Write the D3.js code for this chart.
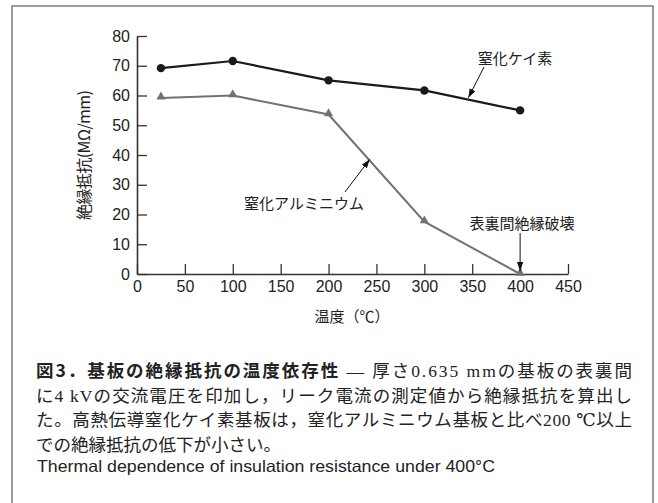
<!DOCTYPE html>
<html>
<head>
<meta charset="utf-8">
<script src="https://cdn.jsdelivr.net/npm/d3@7"></script>
<style>
  body { margin: 0; background: #fff; }
  svg { display: block; }
</style>
</head>
<body>
<svg id="chart" width="658" height="503"></svg>
<script>
// data
const temps = [25, 100, 200, 300, 400];
const siliconNitride = [69.2, 71.6, 65.1, 61.7, 55.0];
const aluminumNitride = [59.2, 60.0, 53.6, 17.6, 0];
const xTicks = [0, 50, 100, 150, 200, 250, 300, 350, 400, 450];
const yTicks = [0, 10, 20, 30, 40, 50, 60, 70, 80];

const captionLines = [
  ["図3．基板の絶縁抵抗の温度依存性", " — 厚さ0.635 mmの基板の表裏間"],
  ["", "に4 kVの交流電圧を印加し，リーク電流の測定値から絶縁抵抗を算出し"],
  ["", "た。高熱伝導窒化ケイ素基板は，窒化アルミニウム基板と比べ200 ℃以上"],
  ["", "での絶縁抵抗の低下が小さい。"]
];
const englishLine = "Thermal dependence of insulation resistance under 400°C";

const svg = d3.select("#chart");
const sans = "'Liberation Sans', Arial, 'Noto Sans CJK JP', sans-serif";
const jp = "'Noto Sans CJK JP', sans-serif";

// frame
svg.append("rect")
  .attr("x", 12).attr("y", 6)
  .attr("width", 641).attr("height", 520)
  .attr("fill", "none")
  .attr("stroke", "#7a7a7a")
  .attr("stroke-width", 1.5);

const x = d3.scaleLinear().domain([0, 450]).range([137, 568]);
const y = d3.scaleLinear().domain([0, 80]).range([274, 36]);

// axes, ticks pointing inward
const gx = svg.append("g")
  .attr("transform", `translate(0,${y(0)})`)
  .call(d3.axisBottom(x).tickValues(xTicks).tickSizeInner(-10).tickSizeOuter(0).tickPadding(7));
const gy = svg.append("g")
  .attr("transform", `translate(${x(0)},0)`)
  .call(d3.axisLeft(y).tickValues(yTicks).tickSizeInner(-10).tickSizeOuter(0).tickPadding(7));

[gx, gy].forEach(g => {
  g.select(".domain").attr("stroke", "#333").attr("stroke-width", 1.6);
  g.selectAll(".tick line").attr("stroke", "#333").attr("stroke-width", 1.3);
  g.selectAll(".tick text")
    .attr("fill", "#222")
    .style("font-family", sans)
    .style("font-size", "16px");
});

// axis titles
svg.append("text")
  .attr("transform", `translate(90,155) rotate(-90)`)
  .attr("text-anchor", "middle")
  .attr("textLength", 130)
  .attr("lengthAdjust", "spacing")
  .style("font-family", jp)
  .style("font-size", "16px")
  .attr("fill", "#222")
  .text("絶縁抵抗(MΩ/mm)");

svg.append("text")
  .attr("x", 352).attr("y", 322)
  .attr("text-anchor", "middle")
  .style("font-family", jp)
  .style("font-size", "15px")
  .attr("fill", "#222")
  .text("温度（℃）");

// series lines
const line = d3.line().x(d => x(d[0])).y(d => y(d[1]));
const alData = temps.map((t, i) => [t, aluminumNitride[i]]);
const siData = temps.map((t, i) => [t, siliconNitride[i]]);

svg.append("path")
  .attr("d", line(alData))
  .attr("fill", "none")
  .attr("stroke", "#727272")
  .attr("stroke-width", 2);

svg.append("g").selectAll("path")
  .data(alData)
  .join("path")
  .attr("d", d3.symbol(d3.symbolTriangle, 36))
  .attr("transform", d => `translate(${x(d[0])},${y(d[1]) - 1})`)
  .attr("fill", "#727272");

svg.append("path")
  .attr("d", line(siData))
  .attr("fill", "none")
  .attr("stroke", "#1a1a1a")
  .attr("stroke-width", 2.2);

svg.append("g").selectAll("circle")
  .data(siData)
  .join("circle")
  .attr("cx", d => x(d[0]))
  .attr("cy", d => y(d[1]))
  .attr("r", 4.2)
  .attr("fill", "#1a1a1a");

// arrows and labels
svg.append("defs").append("marker")
  .attr("id", "head")
  .attr("viewBox", "0 0 10 10")
  .attr("refX", 10).attr("refY", 5)
  .attr("markerWidth", 9).attr("markerHeight", 9)
  .attr("markerUnits", "userSpaceOnUse")
  .attr("orient", "auto")
  .append("path")
  .attr("d", "M0,1.5L10,5L0,8.5Z")
  .attr("fill", "#111");

function arrow(x1, y1, x2, y2) {
  svg.append("line")
    .attr("x1", x1).attr("y1", y1).attr("x2", x2).attr("y2", y2)
    .attr("stroke", "#111").attr("stroke-width", 1)
    .attr("marker-end", "url(#head)");
}

function label(text, cx, cy) {
  svg.append("text")
    .attr("x", cx).attr("y", cy)
    .attr("text-anchor", "middle")
    .attr("dominant-baseline", "central")
    .style("font-family", jp)
    .style("font-size", "15px")
    .attr("fill", "#222")
    .text(text);
}

label("窒化ケイ素", 515, 57);
arrow(484, 67, x(346), y(58.9) - 1);

label("窒化アルミニウム", 304, 202);
arrow(345, 192, x(243), y(38.2) - 1);

label("表裏間絶縁破壊", 522, 222);
arrow(x(400), 233, x(400), y(0) - 3);

// caption
const caption = svg.append("g");
captionLines.forEach((parts, i) => {
  const t = caption.append("text")
    .attr("x", 36)
    .attr("y", 377 + i * 24.5)
    .attr("fill", "#222")
    .style("font-size", "17.5px");
  if (i < captionLines.length - 1) {
    t.attr("textLength", 596).attr("lengthAdjust", "spacing");
  }
  if (parts[0]) {
    t.append("tspan")
      .style("font-family", jp)
      .style("font-weight", "bold")
      .text(parts[0]);
  }
  t.append("tspan")
    .style("font-family", "'Liberation Serif', 'DejaVu Serif', 'Noto Sans CJK JP', serif")
    .text(parts[1]);
});

svg.append("text")
  .attr("x", 37).attr("y", 472)
  .attr("textLength", 458)
  .attr("lengthAdjust", "spacingAndGlyphs")
  .style("font-family", sans)
  .style("font-size", "16.5px")
  .attr("fill", "#222")
  .text(englishLine);
</script>
</body>
</html>
